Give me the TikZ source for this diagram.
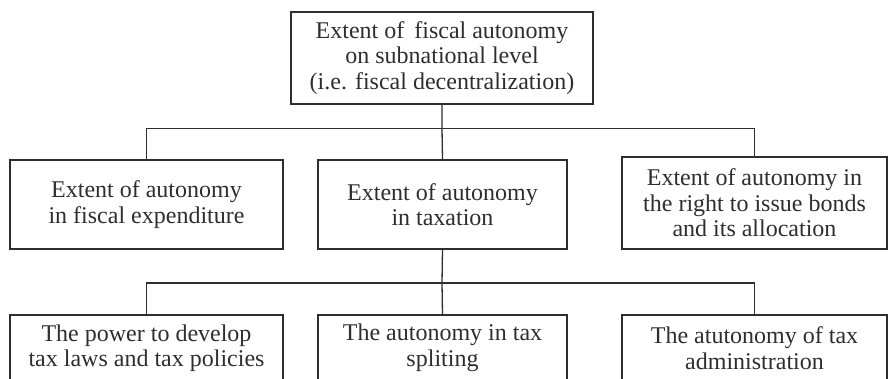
\documentclass[tikz,border=0pt]{standalone}
\usepackage{fontspec}
\setmainfont{Liberation Serif}
\usepackage{xcolor}
\usepackage{tikz}
\definecolor{inkgray}{HTML}{2E2E2E}
\tikzset{
  level/.style={rectangle,draw=inkgray,line width=1.3pt,text=inkgray,align=center,
    inner sep=1pt,font=\fontsize{24}{25.5}\selectfont},
  link/.style={line width=1.3pt,color=inkgray}
}

\begin{document}
\begin{tikzpicture}[x=1pt,y=1pt]
  \useasboundingbox (0,0) rectangle (888,-379);
  % top of the tree
  \node[level, minimum width=302pt, minimum height=92pt] (root) at (442,-58)
    {Extent of\, fiscal autonomy\\on subnational level\\(i.e. fiscal decentralization)};
  % second row
  \node[level, minimum width=273pt, minimum height=89pt] (expend) at (146.5,-204.5)
    {Extent of autonomy\\in fiscal expenditure};
  \node[level, minimum width=249pt, minimum height=89pt] (taxes) at (442.5,-204.5)
    {Extent of autonomy\\in taxation};
  \node[level, minimum width=265pt, minimum height=92pt] (bonds) at (754.5,-203)
    {Extent of autonomy in\\the right to issue bonds\\and its allocation};
  % third row, cut by the page edge
  \node[level, minimum width=273pt, minimum height=66pt] (laws) at (146.5,-348)
    {The power to develop\\tax laws and tax policies};
  \node[level, minimum width=249pt, minimum height=66pt] (split) at (442.5,-348)
    {The autonomy in tax\\spliting};
  \node[level, minimum width=265pt, minimum height=66pt] (admin) at (754.5,-348)
    {The atutonomy of tax\\administration};
  % connectors
  \coordinate (busA) at (442,-128.5);
  \coordinate (busB) at (442,-283);
  \draw[link] (root.south) -- (busA) -- (taxes.north);
  \draw[link] (expend.north) |- (busA) -| (bonds.north);
  \draw[link] (taxes.south) -- (busB) -- (split.north);
  \draw[link] (laws.north) |- (busB) -| (admin.north);
\end{tikzpicture}
\end{document}
